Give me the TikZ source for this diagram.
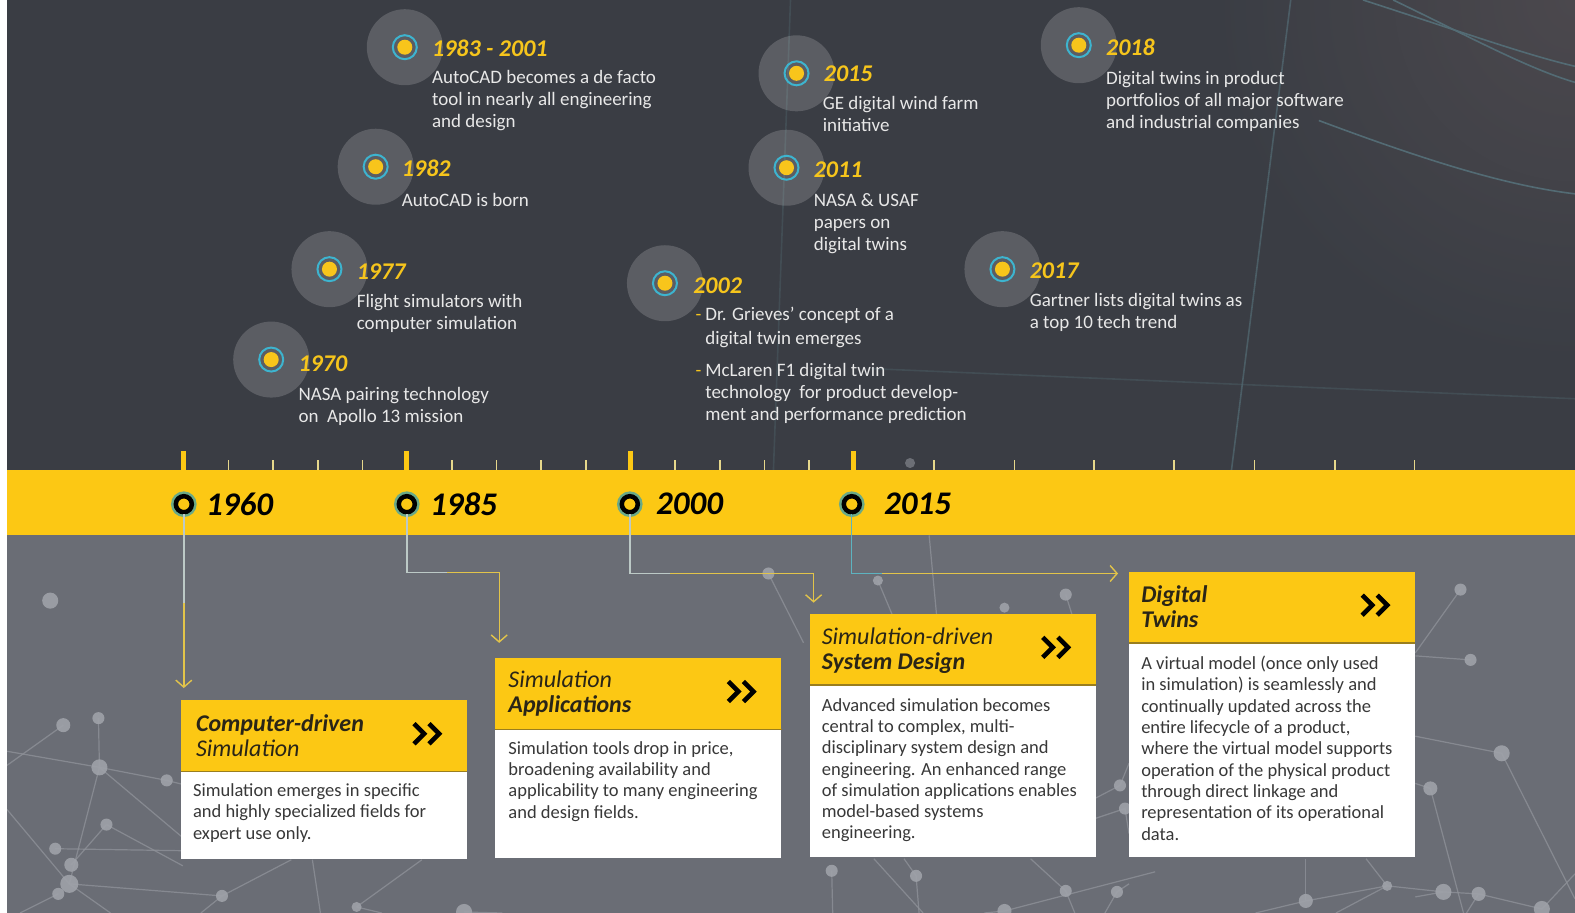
\documentclass[tikz,border=0pt]{standalone}
\usepackage{fontspec}
\setmainfont{Carlito}
\usetikzlibrary{arrows.meta,calc}

\definecolor{topbg}{HTML}{3A3D44}
\definecolor{topbgl}{HTML}{4B484D}
\definecolor{band}{HTML}{FCC814}
\definecolor{lowbg}{HTML}{6A6D75}
\definecolor{netline}{HTML}{8E9198}
\definecolor{netdot}{HTML}{9FA2A9}
\definecolor{yeartxt}{HTML}{F6C51C}
\definecolor{desctxt}{HTML}{E8E8E8}
\definecolor{haloteal}{HTML}{3DB4CF}
\definecolor{dotyel}{HTML}{F8C51B}
\definecolor{conyel}{HTML}{E2C44A}
\definecolor{conpale}{HTML}{BCC9C6}
\definecolor{conteal}{HTML}{5DB3C0}
\definecolor{markglow}{HTML}{3A9FAE}
\definecolor{headtxt}{HTML}{2A2517}
\definecolor{bodytxt}{HTML}{383838}
\definecolor{minortick}{HTML}{E6D88C}
\definecolor{curvecol}{HTML}{536B74}
\definecolor{headedge}{HTML}{9A7E1E}

\newcommand\dblchev[1]{%
  \draw[chev] ($(#1)+(-15,-10)$) -- ++(10,10) -- ++(-10,10);
  \draw[chev] ($(#1)+(0,-10)$) -- ++(10,10) -- ++(-10,10);}

\begin{document}
\begin{tikzpicture}[x=1.004464pt,y=-1.0044pt,
  halo/.style={circle,fill=white,fill opacity=0.17,minimum size=76pt,inner sep=0pt},
  evring/.style={circle,draw=haloteal,line width=2pt,minimum size=24pt,inner sep=0pt},
  evdot/.style={circle,fill=dotyel,minimum size=15pt,inner sep=0pt},
  yeartop/.style={anchor=west,inner sep=0pt,text=yeartxt,font=\fontsize{24}{26}\selectfont\bfseries\itshape},
  desc/.style={anchor=north west,align=left,inner sep=0pt,text=desctxt,font=\fontsize{19}{22}\selectfont},
  marker/.style={circle,minimum size=16pt,inner sep=0pt,fill=band,draw=black,line width=4.5pt,
    preaction={draw=markglow,line width=9.5pt,draw opacity=0.75}},
  bandyear/.style={anchor=west,inner sep=0pt,text=black,font=\fontsize{33}{36}\selectfont\bfseries\itshape},
  headbox/.style={rectangle,fill=band,anchor=north west,inner sep=0pt,minimum width=286pt,minimum height=71pt},
  bodybox/.style={rectangle,fill=white,anchor=north west,inner sep=0pt,minimum width=286pt},
  headtext/.style={anchor=north west,align=left,inner sep=0pt,text=headtxt,font=\fontsize{24}{25}\selectfont\itshape},
  bodytext/.style={anchor=north west,align=left,inner sep=0pt,text=bodytxt,font=\fontsize{18.5}{21.3}\selectfont},
  chev/.style={draw=black,line width=4.6pt,miter limit=4},
  conn/.style={draw=conyel,line width=1.4pt,-{Straight Barb[length=7pt,width=16pt]}},
  connpale/.style={draw=conpale,line width=1.4pt},
  connteal/.style={draw=conteal,line width=1.4pt},
  majortick/.style={draw=band,line width=5pt},
  minortick/.style={draw=minortick,line width=1.5pt},
  net/.style={draw=netline,line width=1.2pt,opacity=0.8},
  netdot/.style={fill=netdot,opacity=0.9},
  faint/.style={draw=curvecol,line width=1.6pt},
]
\useasboundingbox (0,0) rectangle (1568,909);

% ---------- backgrounds ----------
\fill[white] (0,0) rectangle (1568,909);
\fill[topbg] (7,0) rectangle (1568,468);
\begin{scope}
  \clip (7,0) rectangle (1568,468);
  \shade[inner color=topbgl,outer color=topbg] (1568,0) circle (360);
  \draw[faint] (1357,0) .. controls (1450,30) and (1520,55) .. (1568,66);
  \draw[faint] (1387,0) .. controls (1460,35) and (1520,68) .. (1568,82);
  \draw[faint] (1313,120) .. controls (1420,160) and (1500,185) .. (1568,193);
  \draw[faint,opacity=0.7] (1285,0) -- (1226,468);
  \draw[faint,opacity=0.35] (787,0) -- (770,468);
  \draw[faint,opacity=0.35] (867,367) -- (1568,397);
\end{scope}
\fill[lowbg] (7,533) rectangle (1568,909);
\fill[band] (7,468) rectangle (1568,533);

% ---------- background network ----------
\begin{scope}
  \clip (7,533) rectangle (1568,909);
  \foreach \n/\x/\y in {n1/50/598,n2/63/722,n3/98/715,n4/99/764,n5/166/777,n6/106/821,
      n7/55/845,n8/71/861,n9/69/880,n10/58/890,n11/221/892,n12/355/903,n13/462/908,
      m1/765/571,m2/874/578,m3/1000/605,m4/1061/592,m5/1115/782,m6/1120/805,m7/828/867,
      m8/912/872,m9/1000/907,m10/1061/887,m11/1112/888,
      r1/1454/587,r2/1464/657,r3/1495/750,r4/1424/785,r5/1300/897,r6/1381/882,
      r7/1437/888,r8/1472/890,r9/1535/905}
    \coordinate (\n) at (\x,\y);
  \draw[net] (7,748) -- (n4);
  \draw[net] (n2) -- (7,762);
  \draw[net] (n3) -- (n4) -- (n5) -- (182,781);
  \draw[net] (n4) -- (182,834);
  \draw[net] (n4) -- (n9) -- (n11) -- (290,856);
  \draw[net] (7,806) -- (n9) -- (110,909);
  \draw[net] (n6) -- (182,862);
  \draw[net] (n7) -- (182,847);
  \draw[net] (n10) -- (20,909);
  \draw[net] (n8) -- (n6);
  \draw[net] (n11) -- (200,909);
  \draw[net] (311,856) -- (319,909);
  \draw[net] (n12) -- (380,909);
  \draw[net] (n12) -- (420,856);
  \draw[net] (n13) -- (500,909);
  \draw[net] (m1) -- (800,640);
  \draw[net] (m2) -- (900,640);
  \draw[net] (925,533) -- (935,640);
  \draw[net] (m4) -- (1076,640);
  \draw[net] (1090,795) -- (m5) -- (1124,760);
  \draw[net] (1090,815) -- (m6) -- (1124,830);
  \draw[net] (m7) -- (829,909);
  \draw[net] (870,855) -- (919,909);
  \draw[net] (900,855) -- (m8) -- (915,909);
  \draw[net] (1026,855) -- (m10) -- (1070,909);
  \draw[net] (980,909) -- (m9) -- (1150,868);
  \draw[net] (1124,880) -- (m11) -- (1100,909);
  \draw[net] (r1) -- (1409,650);
  \draw[net] (1409,653) -- (r2);
  \draw[net] (1409,733) -- (r3) -- (1568,895);
  \draw[net] (1409,780) -- (r4) -- (1457,909);
  \draw[net] (1409,893) -- (r7);
  \draw[net] (1250,909) -- (r5) -- (r6) -- (r7) -- (r8) -- (r9) -- (1568,870);
  \draw[net] (r8) -- (1460,909);
  \draw[net] (r6) -- (1330,909);
  \draw[net] (1300,855) -- (r5);
  \draw[net] (1360,855) -- (r6);
  \foreach \n/\r in {n1/8,n2/7,n3/6,n4/8,n5/6,n6/6,n7/6,n8/7,n9/9,n10/6,n11/6,n12/5,n13/8,
      m1/6,m2/5,m3/5,m4/6,m5/6,m6/6,m7/6,m8/6,m9/7,m10/6,m11/6,
      r1/6,r2/6,r3/8,r4/7,r5/7,r6/5,r7/8,r8/7,r9/8}
    \fill[netdot] (\n) circle (\r);
\end{scope}
\fill[netdot,opacity=0.5] (906,461) circle (5);

% ---------- ruler ticks ----------
\foreach \k in {1,2,3,4,6,7,8,9,11,12,13,14}
  \draw[minortick] ({183+44.47*\k},458) -- ++(0,10);
\foreach \x in {930,1010,1089,1169,1249,1329,1408}
  \draw[minortick] (\x,458) -- ++(0,10);
\foreach \x in {183,405,628,850}
  \draw[majortick] (\x,449) -- (\x,468);

% ---------- milestone events ----------
\foreach \id/\x/\y in {e1983/403/47,e1982/374/166,e1977/328/268,e1970/270/358,
    e2002/662/282,e2015/793/73,e2011/783/167,e2017/998/268,e2018/1074/45} {
  \node[halo] (\id h) at (\x,\y) {};
  \node[evring] (\id r) at (\x,\y) {};
  \node[evdot] (\id) at (\x,\y) {};
}

\node[yeartop] (y1983) at (430,48) {1983 - 2001};
\node[desc] (d1983) at (430,70) {AutoCAD becomes a de facto\\tool in nearly all engineering\\and design};
\node[yeartop] (y1982) at (400,168) {1982};
\node[desc] (d1982) at (400,192) {AutoCAD is born};
\node[yeartop] (y1977) at (355,270) {1977};
\node[desc] (d1977) at (355,293) {Flight simulators with\\computer simulation};
\node[yeartop] (y1970) at (297,362) {1970};
\node[desc] (d1970) at (297,385) {NASA pairing technology\\on~~Apollo 13 mission};
\node[yeartop] (y2002) at (690,284) {2002};
\node[desc] (d2002) at (702,306) {\llap{\textcolor{yeartxt}{-}\hspace{4pt}}Dr. Grieves' concept of a\\[2pt]
  digital twin emerges\\[10pt]
  \llap{\textcolor{yeartxt}{-}\hspace{4pt}}McLaren F1 digital twin\\
  technology~~for product develop-\\ment and performance prediction};
\node[yeartop] (y2015) at (820,73) {2015};
\node[desc] (d2015) at (819,96) {GE digital wind farm\\initiative};
\node[yeartop] (y2011) at (810,169) {2011};
\node[desc] (d2011) at (810,192) {NASA \& USAF\\papers on\\digital twins};
\node[yeartop] (y2017) at (1025,270) {2017};
\node[desc] (d2017) at (1025,292) {Gartner lists digital twins as\\a top 10 tech trend};
\node[yeartop] (y2018) at (1101,47) {2018};
\node[desc] (d2018) at (1101,71) {Digital twins in product\\portfolios of all major software\\and industrial companies};

% ---------- band markers ----------
\node[marker] (c1960) at (183,502) {};
\node[marker] (c1985) at (405,502) {};
\node[marker] (c2000) at (627,502) {};
\node[marker] (c2015) at (848,502) {};
\node[bandyear] (t1960) at ($(c1960)+(22,0)$) {1960};
\node[bandyear] (t1985) at ($(c1985)+(23,0)$) {1985};
\node[bandyear] (t2000) at ($(c2000)+(26,0)$) {2000};
\node[bandyear] (t2015) at ($(c2015)+(32,0)$) {2015};

% ---------- phase boxes ----------
\node[headbox] (h1) at (180,697) {};
\node[bodybox,minimum height=87pt] (b1) at (h1.south west) {};
\node[headbox] (h2) at (493,655) {};
\node[bodybox,minimum height=129pt] (b2) at (h2.south west) {};
\node[headbox] (h3) at (806,611) {};
\node[bodybox,minimum height=172pt] (b3) at (h3.south west) {};
\node[headbox] (h4) at (1124,569) {};
\node[bodybox,minimum height=214pt] (b4) at (h4.south west) {};
\foreach \h in {h1,h2,h3,h4}
  \draw[headedge,line width=1.5pt] (\h.south west) -- (\h.south east);

\coordinate (lane) at (0,571);
\coordinate (lane2) at (0,570);

% ---------- connectors ----------
\draw[conn] (c1960.south) -- ([yshift=12pt]c1960.center |- h1.north);
\draw[connpale] (c1960.south) -- (c1960 |- 0,600);
\draw[conn] (c1985.south) -- (c1985 |- lane2) -| ([xshift=4pt,yshift=15pt]h2.north west);
\draw[connpale] (c1985.south) -- (c1985 |- lane2) -- ($(c1985 |- lane2)+(40,0)$);
\draw[conn] (c2000.south) -- (c2000 |- lane) -| ([xshift=4pt,yshift=11pt]h3.north west);
\draw[connpale] (c2000.south) -- (c2000 |- lane) -- ($(c2000 |- lane)+(40,0)$);
\draw[conn] (c2015.south) -- (c2015 |- lane) -- ([xshift=-11pt]h4.west |- lane);
\draw[connteal] (c2015.south) -- (c2015 |- lane) -- ($(c2015 |- lane)+(30,0)$);

% ---------- box titles ----------
\node[headtext] (ht1) at ($(h1.north west)+(15,14)$) {\bfseries Computer-driven\\Simulation};
\node[headtext] (ht2) at ($(h2.north west)+(13,13)$) {Simulation\\\bfseries Applications};
\node[headtext] (ht3) at ($(h3.north west)+(12,14)$) {Simulation-driven\\\bfseries System Design};
\node[headtext] (ht4) at ($(h4.north west)+(12,14)$) {\bfseries Digital\\\bfseries Twins};
\foreach \h in {h1,h2,h3,h4} {
  \coordinate (\h chev) at ($(\h.east)+(-38,-2)$);
  \dblchev{\h chev}
}

% ---------- box texts ----------
\node[bodytext] (bt1) at ($(b1.north west)+(12,12)$) {Simulation emerges in specific\\and highly specialized fields for\\expert use only.};
\node[bodytext] (bt2) at ($(b2.north west)+(13,12)$) {Simulation tools drop in price,\\broadening availability and\\applicability to many engineering\\and design fields.};
\node[bodytext] (bt3) at ($(b3.north west)+(12,13)$) {Advanced simulation becomes\\central to complex, multi-\\disciplinary system design and\\engineering. An enhanced range\\of simulation applications enables\\model-based systems\\engineering.};
\node[bodytext] (bt4) at ($(b4.north west)+(12,13)$) {A virtual model (once only used\\in simulation) is seamlessly and\\continually updated across the\\entire lifecycle of a product,\\where the virtual model supports\\operation of the physical product\\through direct linkage and\\representation of its operational\\data.};
\end{tikzpicture}
\end{document}
